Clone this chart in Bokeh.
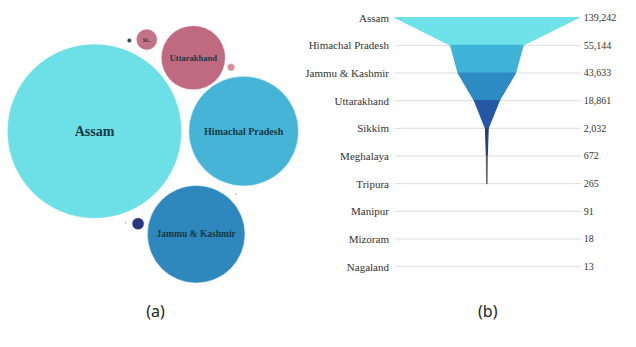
from bokeh.plotting import figure
from bokeh.models import Range1d, ColumnDataSource
from bokeh.embed import file_html
from bokeh.resources import INLINE
from bokeh.core.properties import value
import numpy as np

# ---- data ----
states = ["Assam", "Himachal Pradesh", "Jammu & Kashmir", "Uttarakhand", "Sikkim",
          "Meghalaya", "Tripura", "Manipur", "Mizoram", "Nagaland"]
counts = [139242, 55144, 43633, 18861, 2032, 672, 265, 91, 18, 13]
count_labels = ["139,242", "55,144", "43,633", "18,861", "2,032", "672", "265", "91", "18", "13"]

# bubble chart (a): packed layout centres (layout, not data)
bubble_cx = [97, 251, 202, 199, 151, 142, 238, 133, 129, 243]
bubble_cy = [137, 137, 245, 60, 41, 234, 70, 42, 233, 203]
bubble_colors = ["#6ddfe6", "#45b4d6", "#2f88bd", "#c06a82", "#c4718a",
                 "#283582", "#d98e9e", "#2a4868", "#c9a0aa", "#d07a8a"]
bubble_labels = ["Assam", "Himachal Pradesh", "Jammu & Kashmir", "Uttarakhand", "Si..",
                 "", "", "", "", ""]
bubble_label_sizes = ["14px", "10px", "9.5px", "8.5px", "6px", "6px", "6px", "6px", "6px", "6px"]

funnel_colors = ["#6fe1e9", "#3fb2d7", "#2d8bc4", "#2457a6", "#233f80", "#666666"]

# ---- figure: reference-pixel coordinates scaled into the canvas ----
W, H = 620, 331
p = figure(width=W, height=H, x_range=Range1d(0, 640), y_range=Range1d(347, 0),
           output_backend="svg", toolbar_location=None, min_border=0)
p.axis.visible = False
p.grid.visible = False
p.outline_line_color = None
p.background_fill_color = "white"

serif = value("Liberation Serif")

# ---- (a) bubbles ----
maxv = max(counts)
rmax = 90.0
radii = [rmax * np.sqrt(v / maxv) for v in counts]
bsrc = ColumnDataSource(dict(x=bubble_cx, y=bubble_cy, r=radii, c=bubble_colors,
                             lab=bubble_labels, fs=bubble_label_sizes))
p.circle(x="x", y="y", radius="r", fill_color="c", line_color="white", line_width=0.5,
         source=bsrc)
p.text(x="x", y="y", text="lab", text_font_size="fs", text_font=serif,
       text_font_style="bold", text_color="#163a44", text_align="center",
       text_baseline="middle", source=bsrc)

# ---- (b) funnel ----
row0, dy = 18, 29
cx = 502
half_max = 94.5
grid_x0, grid_x1 = 407, 599
ys = [row0 + i * dy for i in range(len(states))]
half = [half_max * v / maxv for v in counts]

p.segment(x0=[grid_x0] * len(ys), y0=ys, x1=[grid_x1] * len(ys), y1=ys,
          line_color="#dcdcdc", line_width=1)

xs_list, ys_list = [], []
for i in range(len(funnel_colors)):
    xs_list.append([cx - half[i], cx + half[i], cx + half[i + 1], cx - half[i + 1]])
    ys_list.append([ys[i], ys[i], ys[i + 1], ys[i + 1]])
p.patches(xs=xs_list, ys=ys_list, fill_color=funnel_colors, line_color=funnel_colors,
          line_width=1.2)

p.text(x=[401] * len(ys), y=ys, text=states, text_font=serif, text_font_size="11px",
       text_color="#333333", text_align="right", text_baseline="middle")
p.text(x=[602] * len(ys), y=ys, text=count_labels, text_font=serif, text_font_size="10px",
       text_color="#333333", text_align="left", text_baseline="middle")

# captions
p.text(x=[160, 503], y=[325, 325], text=["(a)", "(b)"], text_font=value("Noto Sans"),
       text_font_size="16px", text_color="#222222", text_align="center",
       text_baseline="middle")

open("out.html", "w").write(file_html(p, INLINE))
